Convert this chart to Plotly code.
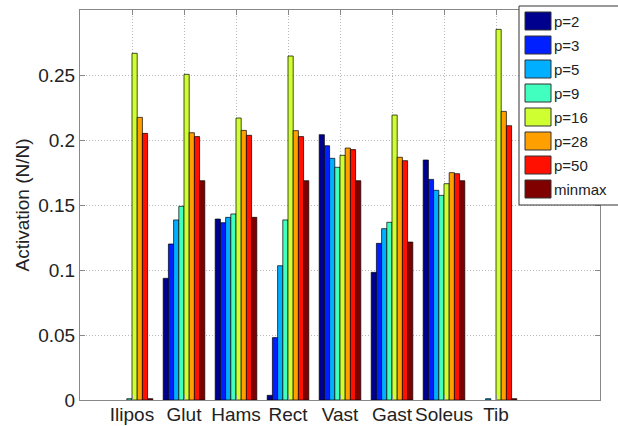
import plotly.graph_objects as go

categories = ["Ilipos", "Glut", "Hams", "Rect", "Vast", "Gast", "Soleus", "Tib"]
series_names = ["p=2", "p=3", "p=5", "p=9", "p=16", "p=28", "p=50", "minmax"]
colors = ["#00008F", "#0020FF", "#00AFFF", "#40FFBF", "#CFFF30", "#FFA000", "#FF1000", "#800000"]

p2 = [None, 0.0936, 0.1392, 0.0036, 0.2041, 0.0982, 0.1846, None]
p3 = [None, 0.1200, 0.1364, 0.0480, 0.1956, 0.1205, 0.1697, None]
p5 = [None, 0.1385, 0.1405, 0.1033, 0.1859, 0.1318, 0.1613, 0.001]
p9 = [0.001, 0.1490, 0.1431, 0.1385, 0.1790, 0.1367, 0.1574, None]
p16 = [0.2667, 0.2505, 0.2169, 0.2646, 0.1882, 0.2192, 0.1664, 0.2851]
p28 = [0.2174, 0.2056, 0.2074, 0.2072, 0.1938, 0.1867, 0.1749, 0.2220]
p50 = [0.2051, 0.2026, 0.2036, 0.2026, 0.1926, 0.1841, 0.1741, 0.2110]
minmax = [0.001, 0.1687, 0.1405, 0.1687, 0.1687, 0.1215, 0.1687, 0.001]
series_values = [p2, p3, p5, p9, p16, p28, p50, minmax]

y_tickvals = [0, 0.05, 0.1, 0.15, 0.2, 0.25]
y_ticktext = ["0", "0.05", "0.1", "0.15", "0.2", "0.25"]

W, H = 618, 426
ML, MR, MT, MB = 80, 18, 10, 26
PW, PH = W - ML - MR, H - MT - MB

FONT = "Liberation Sans, Arial, Helvetica, sans-serif"

def px_x(px):
    return (px - ML) / PW

def px_y(py):
    return (H - MB - py) / PH

x_pos = list(range(1, len(categories) + 1))

fig = go.Figure()
for name, vals, col in zip(series_names, series_values, colors):
    fig.add_trace(go.Bar(
        x=x_pos, y=vals, name=name,
        marker=dict(color=col, line=dict(color="#000000", width=0.7)),
        showlegend=False,
    ))

shapes = []
annotations = []
# legend box
shapes.append(dict(type="rect", xref="paper", yref="paper",
                   x0=px_x(519), x1=px_x(700), y0=px_y(205), y1=px_y(6),
                   fillcolor="white", line=dict(color="#333333", width=1), layer="above"))
for i, (name, col) in enumerate(zip(series_names, colors)):
    top = 12 + 24 * i
    shapes.append(dict(type="rect", xref="paper", yref="paper",
                       x0=px_x(525), x1=px_x(551), y0=px_y(top + 18), y1=px_y(top),
                       fillcolor=col, line=dict(color="#333333", width=1), layer="above"))
    annotations.append(dict(xref="paper", yref="paper", x=px_x(552), y=px_y(top + 9.5),
                            text=name, showarrow=False, xanchor="left", yanchor="middle",
                            font=dict(family=FONT, size=15, color="#222222")))

fig.update_layout(
    width=W, height=H,
    margin=dict(l=ML, r=MR, t=MT, b=MB),
    paper_bgcolor="white", plot_bgcolor="white",
    barmode="group", bargap=0.2, bargroupgap=0,
    font=dict(family=FONT, size=19, color="#222222"),
    shapes=shapes, annotations=annotations,
    showlegend=False,
)
fig.update_xaxes(
    range=[0, 10], tickvals=x_pos, ticktext=categories, tickangle=0,
    showline=True, linecolor="#888888", linewidth=1, mirror="ticks",
    ticks="inside", ticklen=5, tickcolor="#888888",
    showgrid=True, gridcolor="#b8b8b8", griddash="1px,2px", gridwidth=1,
    zeroline=False, tickfont=dict(size=19), automargin=False,
    ticklabelstandoff=-3,
)
fig.update_yaxes(
    range=[0, 0.3], tickvals=y_tickvals, ticktext=y_ticktext,
    showline=True, linecolor="#888888", linewidth=1, mirror="ticks",
    ticks="inside", ticklen=5, tickcolor="#888888",
    showgrid=True, gridcolor="#b8b8b8", griddash="1px,2px", gridwidth=1,
    zeroline=False, tickfont=dict(size=19), automargin=False,
    title=dict(text="Activation (N/N)", font=dict(size=19), standoff=3),
)

fig.write_html(
    "out.html",
    config={"displayModeBar": False},
    post_script="document.body.style.margin='0px';document.body.style.overflow='hidden';",
)
